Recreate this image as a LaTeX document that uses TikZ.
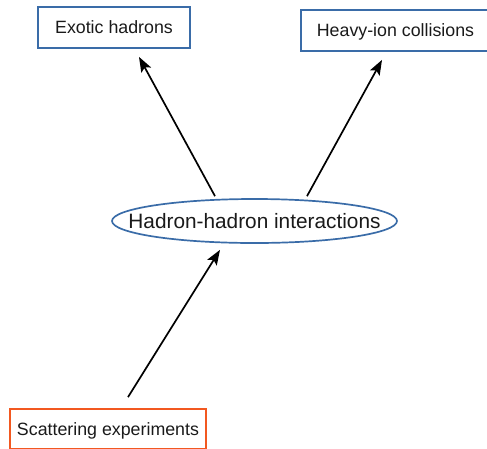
\documentclass[tikz,border=0pt]{standalone}
\usepackage{fontspec}
\setmainfont{Liberation Sans}
\usetikzlibrary{arrows.meta,shapes.geometric}
\definecolor{boxblue}{RGB}{58,108,168}
\definecolor{boxorange}{RGB}{242,88,32}
\definecolor{txt}{RGB}{26,26,26}
\tikzset{
  topic/.style={draw=boxblue, line width=1.8pt, minimum height=41pt, inner sep=0pt,
    text height=12.7pt, text depth=0pt, text=txt, font=\fontsize{17.8}{20}\selectfont},
  source/.style={topic, draw=boxorange},
  hub/.style={ellipse, draw=boxblue, line width=1.7pt, minimum width=285pt, minimum height=44pt,
    inner xsep=-30pt, inner ysep=0pt, text height=14.9pt, text depth=0pt,
    text=txt, font=\fontsize{20.8}{24}\selectfont},
  arr/.style={line width=1.7pt, -{Stealth[length=15pt,width=11pt,inset=3pt]}}
}
\begin{document}
\begin{tikzpicture}[x=1pt,y=1pt]
\useasboundingbox (0,0) rectangle (487,-448);
\node[topic, minimum width=152pt] (exo) at (114,-27.5) {Exotic hadrons};
\node[topic, minimum width=189pt] (hic) at (395.5,-30.5) {Heavy-ion collisions};
\node[hub] (hh) at (254.5,-221) {Hadron-hadron interactions};
\node[source, minimum width=196pt, minimum height=40pt] (scat) at (108,-429) {Scattering experiments};
\draw[arr] ([xshift=-39.5pt,yshift=2pt]hh.north) -- ([xshift=25pt,yshift=-8pt]exo.south);
\draw[arr] ([xshift=52.5pt,yshift=2pt]hh.north) -- ([xshift=-13.5pt,yshift=-8pt]hic.south);
\draw[arr] ([xshift=20pt,yshift=11pt]scat.north) -- ([xshift=-34.5pt,yshift=-6pt]hh.south);
\end{tikzpicture}
\end{document}
